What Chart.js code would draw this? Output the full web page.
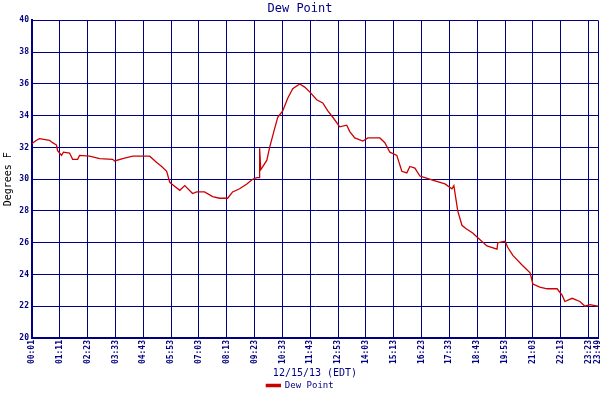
<!DOCTYPE html>
<html>
<head>
<meta charset="utf-8">
<script src="https://cdn.jsdelivr.net/npm/chart.js@4.4.0/dist/chart.umd.min.js"></script>
<style>
  html, body { margin: 0; padding: 0; background: #fff; }
  #wrap { width: 600px; height: 400px; }
</style>
</head>
<body>
<div id="wrap"><canvas id="dewChart"></canvas></div>
<script>
// tick labels along the time axis (one per grid line, last one at the right edge)
const timeLabels = ['00:01', '01:11', '02:23', '03:33', '04:43', '05:53', '07:03', '08:13', '09:23', '10:33',
    '11:43', '12:53', '14:03', '15:13', '16:23', '17:33', '18:43', '19:53', '21:03', '22:13', '23:23', '23:49'];
const tickPos = [0, 1, 2, 3, 4, 5, 6, 7, 8, 9, 10, 11, 12, 13, 14, 15, 16, 17, 18, 19, 20, 20.34];

// readings: position along the time axis (in label intervals) and dew point in deg F
const pos = [0, 0.16, 0.27, 0.63, 0.74, 0.88, 0.92, 1.06, 1.13, 1.35, 1.46, 1.64, 1.71, 2.07, 2.43, 2.9, 2.97,
    3.26, 3.62, 4.23, 4.48, 4.66, 4.84, 4.95, 5.02, 5.31, 5.49, 5.77, 5.92, 6.2, 6.49, 6.74, 7.03, 7.21, 7.46,
    7.72, 7.93, 8.08, 8.17, 8.18, 8.22, 8.26, 8.44, 8.54, 8.69, 8.83, 9.01, 9.19, 9.37, 9.62, 9.8, 9.98, 10.23,
    10.45, 10.63, 10.81, 11.06, 11.31, 11.42, 11.6, 11.89, 12.07, 12.5, 12.68, 12.86, 13.11, 13.29, 13.47, 13.58,
    13.76, 13.94, 14.12, 14.48, 14.84, 15.09, 15.16, 15.3, 15.45, 15.59, 15.85, 16.03, 16.35, 16.71, 16.74, 17.0,
    17.1, 17.28, 17.61, 17.9, 18.0, 18.25, 18.51, 18.87, 19.05, 19.15, 19.41, 19.69, 19.87, 20.05, 20.34];
const dew = [32.25, 32.45, 32.55, 32.45, 32.3, 32.15, 31.8, 31.5, 31.7, 31.65, 31.25, 31.25, 31.5, 31.45, 31.3, 31.25, 31.15,
    31.3, 31.45, 31.45, 31.05, 30.8, 30.5, 29.8, 29.7, 29.3, 29.6, 29.1, 29.2, 29.2, 28.9, 28.8, 28.8, 29.2, 29.4,
    29.7, 30.0, 30.1, 30.1, 31.95, 30.6, 30.7, 31.2, 32.0, 33.0, 33.9, 34.3, 35.1, 35.7, 36.0, 35.8, 35.5, 35.0,
    34.8, 34.3, 33.9, 33.3, 33.4, 33.0, 32.6, 32.4, 32.6, 32.6, 32.3, 31.7, 31.5, 30.5, 30.4, 30.8,
    30.7, 30.2, 30.1, 29.9, 29.7, 29.4, 29.6, 28.0, 27.1, 26.9, 26.6, 26.3, 25.8, 25.6, 26.0, 26.1,
    25.7, 25.2, 24.6, 24.1, 23.4, 23.2, 23.1, 23.1, 22.7, 22.3, 22.5, 22.3, 22.0, 22.1, 22.0];

const navy = '#000080';
const monoFont = 'DejaVu Sans Mono';

document.addEventListener('DOMContentLoaded', () => {
    new Chart(document.getElementById('dewChart'), {
        type: 'line',
        data: {
            datasets: [{
                label: 'Dew Point',
                data: pos.map((p, i) => ({ x: p, y: dew[i] })),
                borderColor: '#cc0000',
                backgroundColor: '#cc0000',
                borderWidth: 1.3,
                pointRadius: 0,
                tension: 0
            }]
        },
        options: {
            responsive: true,
            maintainAspectRatio: false,
            animation: false,
            layout: { padding: { left: 2, right: 2, top: 0, bottom: 0 } },
            plugins: {
                title: {
                    display: true,
                    text: 'Dew Point',
                    color: navy,
                    font: { family: monoFont, size: 12, weight: 'normal' },
                    padding: { top: 2, bottom: 4 }
                },
                legend: {
                    position: 'bottom',
                    labels: {
                        color: navy,
                        font: { family: monoFont, size: 9 },
                        boxWidth: 14,
                        boxHeight: 2,
                        padding: 2
                    }
                },
                tooltip: { enabled: false }
            },
            scales: {
                x: {
                    type: 'linear',
                    min: 0,
                    max: 20.34,
                    afterBuildTicks: (scale) => {
                        scale.ticks = tickPos.map(v => ({ value: v }));
                    },
                    afterFit: (scale) => {
                        scale.height = 41;
                        scale.paddingRight = 0;
                    },
                    ticks: {
                        autoSkip: false,
                        maxRotation: 90,
                        minRotation: 90,
                        color: navy,
                        font: { family: monoFont, size: 8, weight: 'bold' },
                        padding: 2,
                        callback: (v, i) => timeLabels[i]
                    },
                    grid: { color: navy, lineWidth: 1, drawTicks: false },
                    border: { color: navy, width: 2 },
                    title: {
                        display: true,
                        text: '12/15/13 (EDT)',
                        color: navy,
                        font: { family: monoFont, size: 10 },
                        padding: { top: 2, bottom: 0 }
                    }
                },
                y: {
                    min: 20,
                    max: 40,
                    afterFit: (scale) => { scale.width = 30; },
                    ticks: {
                        stepSize: 2,
                        color: navy,
                        font: { family: monoFont, size: 8, weight: 'bold' },
                        padding: 3
                    },
                    grid: { color: navy, lineWidth: 1, drawTicks: false },
                    border: { color: navy, width: 2 },
                    title: {
                        display: true,
                        text: 'Degrees F',
                        color: '#000',
                        font: { family: monoFont, size: 10 },
                        padding: 0
                    }
                }
            }
        }
    });
});
</script>
</body>
</html>
